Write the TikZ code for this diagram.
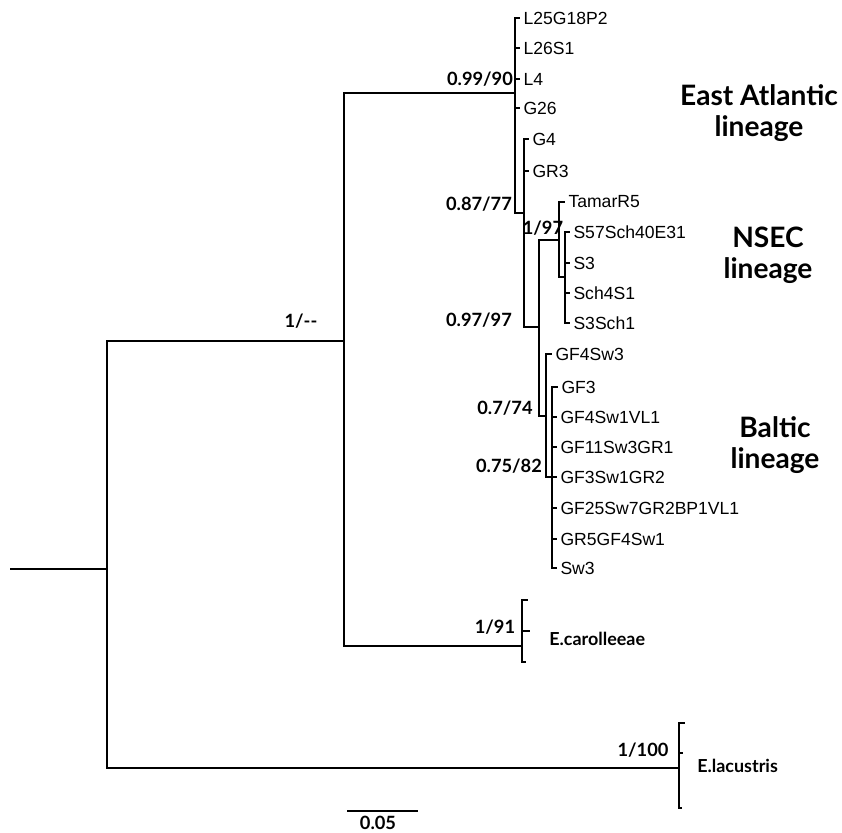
\documentclass[tikz,border=0pt]{standalone}
\usepackage{fontspec}
\setmainfont{Liberation Sans}
\newfontfamily\supfont{Lato}
\usetikzlibrary{positioning}
\tikzset{
      branch/.style={
        line width=0.9pt,
        black
      },
      bracket/.style={
        line width=1.2pt,
        black
      },
      leafname/.style={
        anchor=west,
        inner sep=1.8pt,
        font=\fontsize{10}{12}\selectfont
      },
      suplabel/.style={
        inner sep=0pt,
        font=\supfont\bfseries\fontsize{10.4}{12}\selectfont
      },
      taxlabel/.style={
        anchor=west,
        inner sep=0pt,
        font=\supfont\bfseries\fontsize{10.2}{12}\selectfont
      },
      lineagelabel/.style={
        align=center,
        inner sep=0pt,
        font=\supfont\bfseries\fontsize{16}{17.6}\selectfont
      }
    }
\begin{document}
\begin{tikzpicture}[x=0.2mm,y=-0.2mm]
    \useasboundingbox (0,0) rectangle (842,833);
    % internal nodes of the tree
    \coordinate (root) at (10,569);
    \coordinate (nA) at (107,569);
    \coordinate (nB) at (344,341);
    \coordinate (nEA) at (515,93);
    \coordinate (nGR) at (524,213);
    \coordinate (nSB) at (539,327);
    \coordinate (nTam) at (559,240);
    \coordinate (nS) at (565,277);
    \coordinate (nBa) at (546,416);
    \coordinate (nBb) at (552,477);
    \coordinate (nCar) at (522,646);
    \coordinate (nLac) at (679,768);
    % leaves
    \node[leafname] (l25) at (520,18) {L25G18P2};
    \node[leafname] (l26) at (520,48) {L26S1};
    \node[leafname] (l4) at (520,79) {L4};
    \node[leafname] (g26) at (520,108) {G26};
    \node[leafname] (g4) at (529,139) {G4};
    \node[leafname] (gr3) at (529,171) {GR3};
    \node[leafname] (tam) at (565,202) {TamarR5};
    \node[leafname] (s57) at (570,232) {S57Sch40E31};
    \node[leafname] (s3) at (570,263) {S3};
    \node[leafname] (sch4) at (570,293) {Sch4S1};
    \node[leafname] (s3sch) at (570,323) {S3Sch1};
    \node[leafname] (gf4sw3) at (552,354) {GF4Sw3};
    \node[leafname] (gf3) at (558,387) {GF3};
    \node[leafname] (gf4sw1) at (557,417) {GF4Sw1VL1};
    \node[leafname] (gf11) at (557,447) {GF11Sw3GR1};
    \node[leafname] (gf3sw1) at (557,477) {GF3Sw1GR2};
    \node[leafname] (gf25) at (557,508) {GF25Sw7GR2BP1VL1};
    \node[leafname] (gr5) at (557,539) {GR5GF4Sw1};
    \node[leafname] (sw3) at (557,568) {Sw3};
    \coordinate (c1) at (528,600);
    \coordinate (c2) at (530,631);
    \coordinate (c3) at (526,662);
    \coordinate (x1) at (685,723);
    \coordinate (x2) at (683,753);
    \coordinate (x3) at (682,808);
    % branches
    \draw[branch] (root) -- (nA);
    \draw[branch] (nA) |- (nB);
    \draw[branch] (nA) |- (nLac);
    \draw[branch] (nB) |- (nEA);
    \draw[branch] (nB) |- (nCar);
    \draw[bracket] (nEA) |- (l25.west);
    \draw[bracket] (nEA) |- (l26.west);
    \draw[bracket] (nEA) |- (l4.west);
    \draw[bracket] (nEA) |- (g26.west);
    \draw[branch] (nEA) |- (nGR);
    \draw[branch] (nGR) |- (g4.west);
    \draw[branch] (nGR) |- (gr3.west);
    \draw[branch] (nGR) |- (nSB);
    \draw[branch] (nSB) |- (nTam);
    \draw[branch] (nSB) |- (nBa);
    \draw[branch] (nTam) |- (tam.west);
    \draw[branch] (nTam) |- (nS);
    \draw[bracket] (nS) |- (s57.west);
    \draw[bracket] (nS) |- (s3.west);
    \draw[bracket] (nS) |- (sch4.west);
    \draw[bracket] (nS) |- (s3sch.west);
    \draw[branch] (nBa) |- (gf4sw3.west);
    \draw[branch] (nBa) |- (nBb);
    \draw[bracket] (nBb) |- (gf3.west);
    \draw[bracket] (nBb) |- (gf4sw1.west);
    \draw[bracket] (nBb) |- (gf11.west);
    \draw[bracket] (nBb) |- (gf3sw1.west);
    \draw[bracket] (nBb) |- (gf25.west);
    \draw[bracket] (nBb) |- (gr5.west);
    \draw[bracket] (nBb) |- (sw3.west);
    \draw[bracket] (nCar) |- (c1);
    \draw[bracket] (nCar) |- (c2);
    \draw[bracket] (nCar) |- (c3);
    \draw[bracket] (nLac) |- (x1);
    \draw[bracket] (nLac) |- (x2);
    \draw[bracket] (nLac) |- (x3);
    % support values
    \node[suplabel] (s1) at (301,321) {1/--};
    \node[suplabel] (s2) at (480,79) {0.99/90};
    \node[suplabel] (s3l) at (479,204) {0.87/77};
    \node[suplabel] (s4) at (543,228) {1/97};
    \node[suplabel] (s5) at (479,320) {0.97/97};
    \node[suplabel] (s6) at (505,408) {0.7/74};
    \node[suplabel] (s7) at (509,466) {0.75/82};
    \node[suplabel] (s8) at (495,627) {1/91};
    \node[suplabel] (s9) at (643,750) {1/100};
    % outgroups
    \node[taxlabel] (car) at (549,639) {E.carolleeae};
    \node[taxlabel] (lac) at (697,766) {E.lacustris};
    % lineages
    \node[lineagelabel] (ea) at (759,113) {East Atlantic\\lineage};
    \node[lineagelabel] (ns) at (768,255) {NSEC\\lineage};
    \node[lineagelabel] (bl) at (775,445) {Baltic\\lineage};
    % scale bar
    \coordinate (sb1) at (347,811);
    \coordinate (sb2) at (418,811);
    \draw[branch] (sb1) -- (sb2);
    \node[suplabel] (sbl) at (378,823) {0.05};
\end{tikzpicture}
\end{document}
